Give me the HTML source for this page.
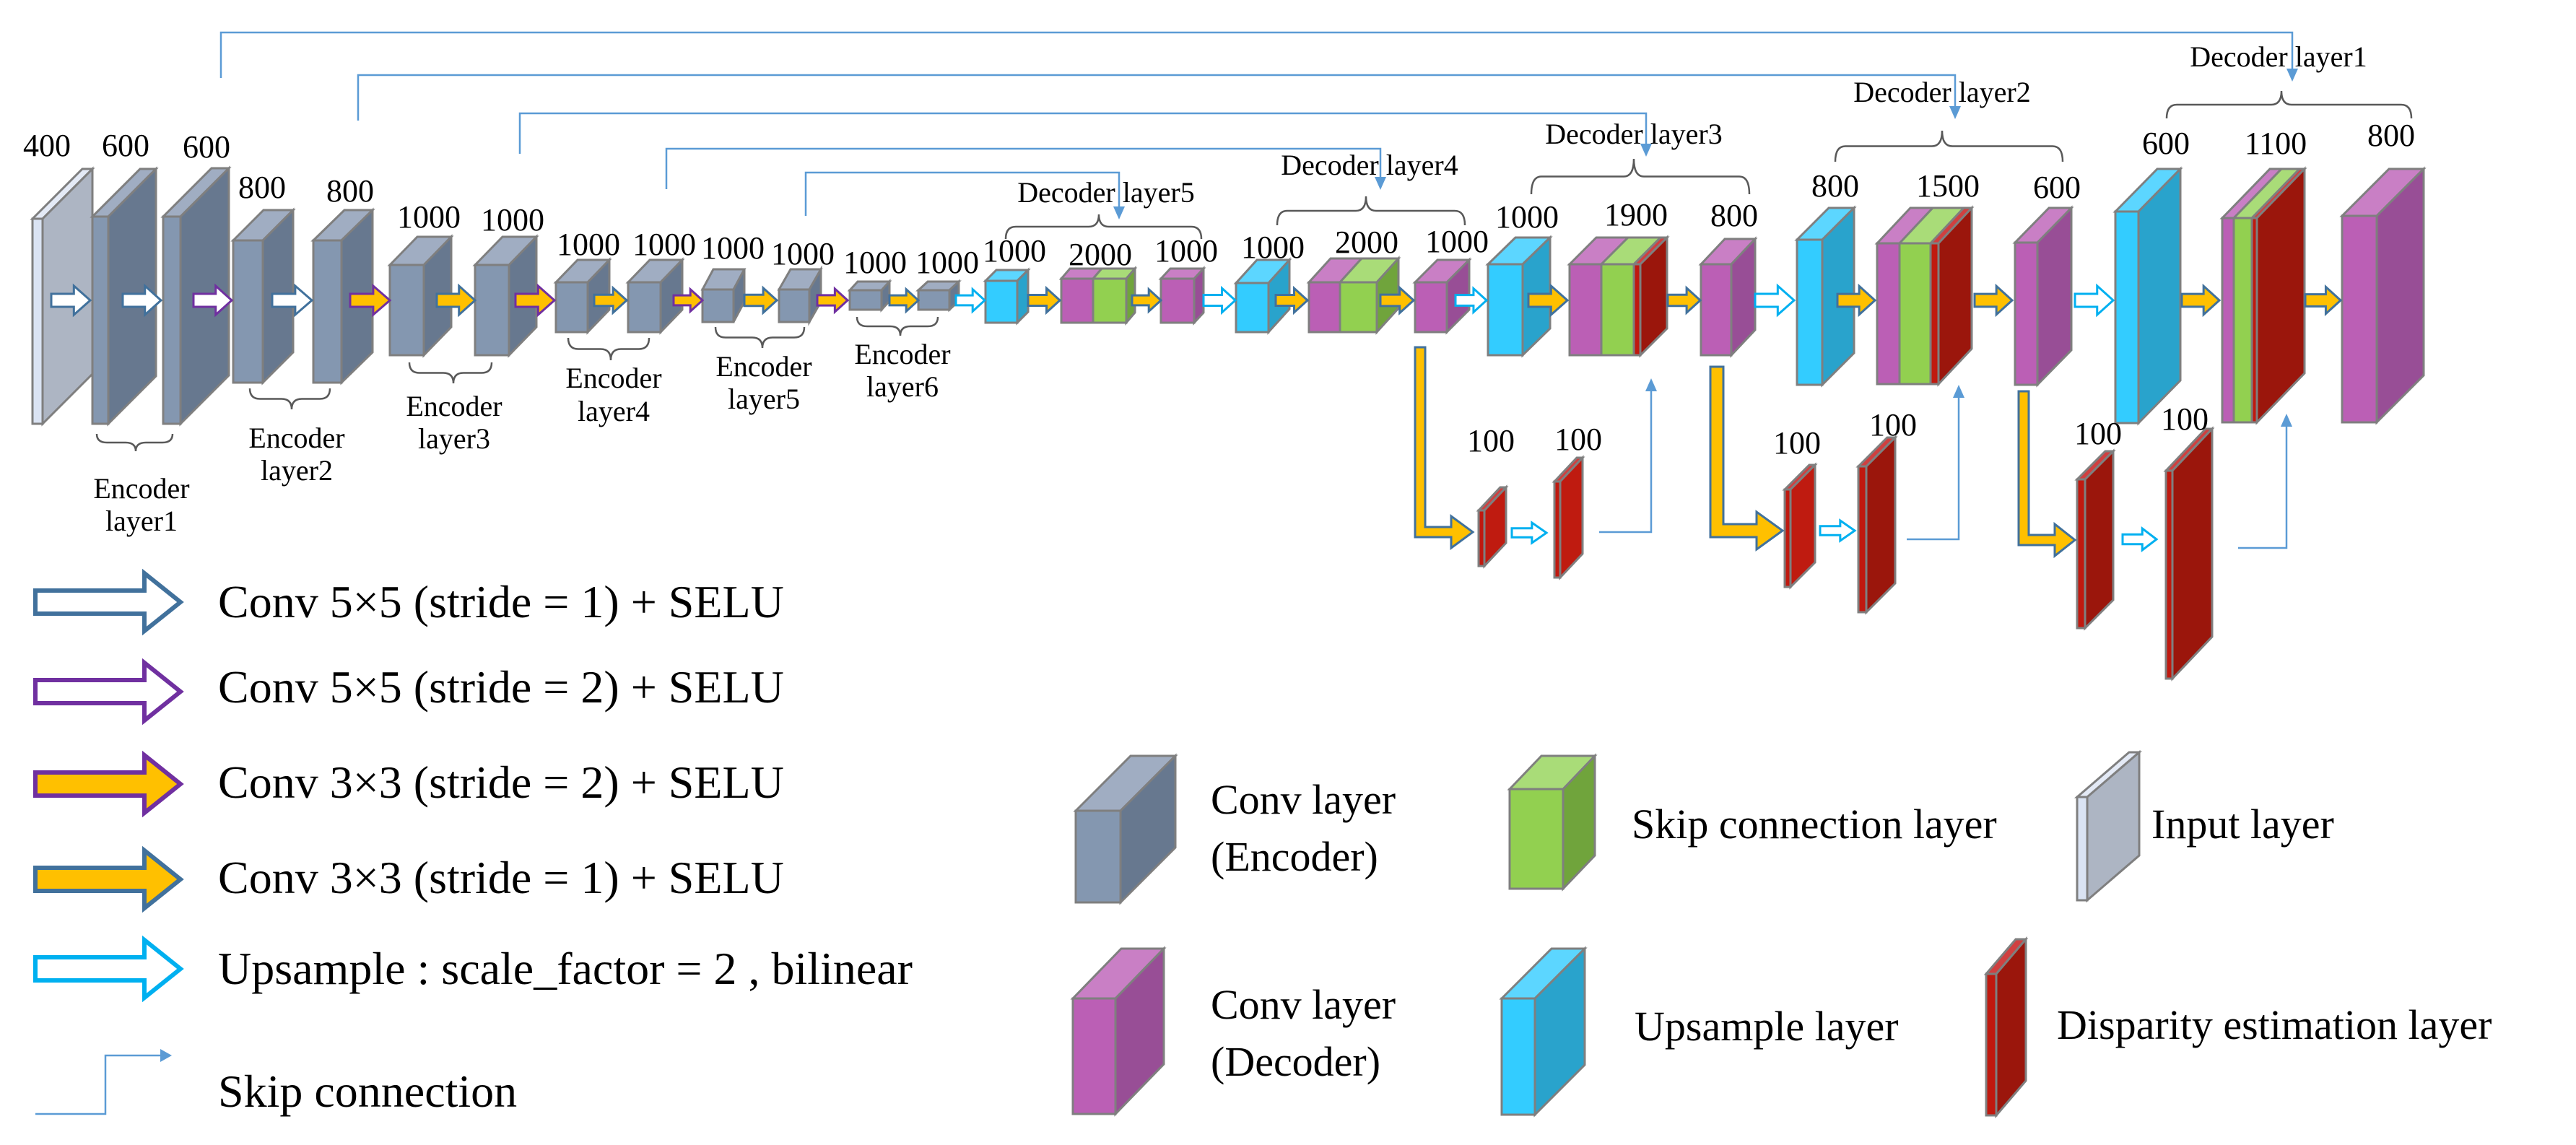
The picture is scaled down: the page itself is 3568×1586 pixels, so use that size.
<!DOCTYPE html>
<html><head><meta charset="utf-8"><style>
html,body{margin:0;padding:0;background:#fff;}
svg{display:block;}
svg text{font-family:"Liberation Serif","Times New Roman",serif !important;fill:#000;}
</style></head><body>
<svg id="s" width="3568" height="1586" viewBox="0 0 3568 1586" xmlns="http://www.w3.org/2000/svg" font-family="Liberation Serif, serif">
<g id="shapes"></g>
<g font-size="44" text-anchor="middle" font-family="Liberation Serif, serif" style="font-family:'Liberation Serif',serif">
<text x="65" y="216">400</text><text x="174" y="216">600</text><text x="286" y="218">600</text>
<text x="363" y="274">800</text><text x="485" y="279">800</text>
<text x="594" y="315">1000</text><text x="710" y="319">1000</text>
<text x="815" y="353">1000</text><text x="920" y="353">1000</text>
<text x="1015" y="358">1000</text><text x="1112" y="366">1000</text>
<text x="1212" y="378">1000</text><text x="1312" y="378">1000</text>
<text x="1405" y="362">1000</text><text x="1524" y="367">2000</text><text x="1643" y="362">1000</text>
<text x="1763" y="357">1000</text><text x="1893" y="350">2000</text><text x="2018" y="349">1000</text>
<text x="2115" y="315">1000</text><text x="2266" y="312">1900</text><text x="2402" y="313">800</text>
<text x="2542" y="272">800</text><text x="2698" y="272">1500</text><text x="2849" y="274">600</text>
<text x="3000" y="213">600</text><text x="3152" y="213">1100</text><text x="3312" y="202">800</text>
<text x="2065" y="625">100</text><text x="2186" y="623">100</text>
<text x="2489" y="628">100</text><text x="2622" y="603">100</text>
<text x="2906" y="615">100</text><text x="3026" y="595">100</text>
</g>
<g font-size="40" text-anchor="middle" font-family="Liberation Serif, serif" style="font-family:'Liberation Serif',serif">
<text x="196" y="690">Encoder</text><text x="196" y="735">layer1</text>
<text x="411" y="620">Encoder</text><text x="411" y="665">layer2</text>
<text x="629" y="576">Encoder</text><text x="629" y="621">layer3</text>
<text x="850" y="537">Encoder</text><text x="850" y="583">layer4</text>
<text x="1058" y="521">Encoder</text><text x="1058" y="566">layer5</text>
<text x="1250" y="504">Encoder</text><text x="1250" y="549">layer6</text>
<text x="1532" y="280">Decoder layer5</text>
<text x="1897" y="242">Decoder layer4</text>
<text x="2263" y="199">Decoder layer3</text>
<text x="2690" y="141">Decoder layer2</text>
<text x="3156" y="92">Decoder layer1</text>
</g>
<g font-size="64" font-family="Liberation Serif, serif" style="font-family:'Liberation Serif',serif">
<text x="302" y="855">Conv 5×5 (stride = 1) + SELU</text>
<text x="302" y="973">Conv 5×5 (stride = 2) + SELU</text>
<text x="302" y="1105">Conv 3×3 (stride = 2) + SELU</text>
<text x="302" y="1237">Conv 3×3 (stride = 1) + SELU</text>
<text x="302" y="1363">Upsample : scale_factor = 2 , bilinear</text>
<text x="302" y="1533">Skip connection</text>
</g>
<g font-size="58" font-family="Liberation Serif, serif" style="font-family:'Liberation Serif',serif">
<text x="1677" y="1127">Conv layer</text><text x="1677" y="1206">(Encoder)</text>
<text x="2260" y="1161">Skip connection layer</text>
<text x="2980" y="1161">Input layer</text>
<text x="1677" y="1411">Conv layer</text><text x="1677" y="1490">(Decoder)</text>
<text x="2264" y="1441">Upsample layer</text>
<text x="2849" y="1439">Disparity estimation layer</text>
</g>
</svg>
<script>
(function(){
var g=document.getElementById('shapes'),NS='http://www.w3.org/2000/svg';
function el(t,a){var e=document.createElementNS(NS,t);for(var k in a)e.setAttribute(k,a[k]);g.appendChild(e);return e;}
function poly(pts,fill,stroke,sw){el('polygon',{points:pts.map(function(p){return p[0]+','+p[1]}).join(' '),fill:fill,stroke:stroke||'#7f7f7f','stroke-width':sw||3,'stroke-linejoin':'miter'});}
var C={e:['#8497b0','#a0adc2','#67788f'],i:['#dae3f3','#e4eaf6','#adb5c3'],p:['#bb5fb5','#c97fc5','#984e96'],g:['#92d050','#a9dc78','#70a43c'],c:['#33ccff','#5cd6ff','#29a3cc'],r:['#c0190f','#d04040','#9b160c'],rb:['#c0190f','#d04040','#bf1b10']};
function box(segs,y,h,dx,dy,sideKey){
  segs.forEach(function(s){var c=C[s[2]];
    poly([[s[0],y],[s[0]+dx,y-dy],[s[1]+dx,y-dy],[s[1],y]],c[1]);});
  var L=segs[segs.length-1],xr=L[1],sc=C[sideKey||L[2]][2];
  poly([[xr,y],[xr+dx,y-dy],[xr+dx,y+h-dy],[xr,y+h]],sc);
  segs.forEach(function(s){var c=C[s[2]];poly([[s[0],y],[s[1],y],[s[1],y+h],[s[0],y+h]],c[0]);});
}
function b1(x0,x1,y,h,dx,dy,k,sk){box([[x0,x1,k]],y,h,dx,dy,sk);}
b1(45,59,303,284,69,69,'i');
b1(128,150,300,287,66,66,'e');
b1(226,250,300,287,67,67,'e');
b1(323,364,333,197,42,42,'e');
b1(434,473,333,197,43,42,'e');
b1(540,587,367,125,38,39,'e');
b1(658,705,367,125,38,39,'e');
b1(770,814,391,69,30,31,'e');
b1(870,915,391,69,30,31,'e');
b1(973,1016,401,45,15,28,'e');
b1(1079,1121,401,45,16,28,'e');
b1(1177,1221,402,27,11,12,'e');
b1(1272,1315,402,27,13,12,'e');
b1(1365,1409,389,58,15,15,'c');
box([[1470,1514,'p'],[1514,1560,'g']],386,61,12,14);
b1(1608,1654,386,61,13,14,'p');
b1(1712,1757,392,68,29,32,'c');
box([[1813,1856,'p'],[1856,1907,'g']],391,69,30,33);
b1(1960,2004,391,69,31,31,'p');
b1(2061,2109,366,126,38,37,'c');
box([[2174,2218,'p'],[2218,2263,'g'],[2263,2272,'r']],366,126,37,37,'r');
b1(2356,2398,366,126,33,35,'p');
b1(2489,2524,332,201,44,44,'c');
box([[2600,2631,'p'],[2631,2674,'g'],[2674,2685,'r']],337,195,46,49,'r');
b1(2791,2822,336,197,47,48,'p');
b1(2930,2962,293,293,58,59,'c');
box([[3078,3094,'p'],[3094,3119,'g'],[3119,3126,'r']],302,283,66,68,'r');
b1(3244,3292,299,286,65,65,'p');
b1(2048,2056,707,77,30,32,'r','rb');
b1(2153,2161,667,133,31,33,'r','rb');
b1(2472,2480,678,135,34,34,'r','rb');
b1(2574,2585,646,202,40,40,'r');
b1(2877,2888,664,206,39,39,'r');
b1(3000,3009,652,288,55,58,'r');
b1(1490,1552,1123,127,76,76,'e');
b1(2091,2165,1093,138,44,46,'g');
b1(2877,2891,1104,143,72,62,'i');
b1(1486,1545,1383,160,67,69,'p');
b1(2080,2126,1383,161,69,69,'c');
b1(2751,2765,1349,196,41,48,'r');
var AS={b:['#fff','#41719c'],p:['#fff','#7030a0'],yp:['#ffc000','#7030a0'],yb:['#ffc000','#41719c'],c:['#fff','#00b0f0']};
function arrow(x1,x2,y,t,H,s,hl,sw){var len=x2-x1;
  H=H||Math.max(14,Math.min(20,len*0.38));s=s||H*0.45;hl=hl||len*0.42;var xh=x2-hl;
  poly([[x1,y-s],[xh,y-s],[xh,y-H],[x2,y],[xh,y+H],[xh,y+s],[x1,y+s]],AS[t][0],AS[t][1],sw||3);}
[[71,125,'b'],[170,223,'b'],[268,321,'p'],[377,432,'b'],[485,540,'yp'],[605,658,'yb'],[714,768,'yp'],[823,868,'yb'],[933,973,'yp'],[1031,1076,'yb'],[1132,1174,'yp'],[1232,1272,'yb'],[1324,1364,'c'],
[1424,1468,'yb'],[1568,1608,'yb'],[1667,1711,'c'],[1767,1811,'yb'],[1912,1958,'yb'],[2016,2059,'c'],[2117,2171,'yb'],[2310,2355,'yb'],[2431,2485,'c'],[2545,2597,'yb'],[2735,2787,'yb'],[2874,2927,'c'],[3022,3074,'yb'],[3193,3242,'yb']].forEach(function(a){arrow(a[0],a[1],416,a[2]);});
arrow(2094,2142,738,'c',14);arrow(2521,2569,735,'c',14);arrow(2940,2987,747,'c',15);
function Larrow(xl,yt,yc,xt,s,H,hl){poly([[xl,yt],[xl+2*s,yt],[xl+2*s,yc-s],[xt-hl,yc-s],[xt-hl,yc-H],[xt,yc],[xt-hl,yc+H],[xt-hl,yc+s],[xl,yc+s]],'#ffc000','#41719c',3);}
Larrow(1960,481,737,2040,7,22,30);
Larrow(2369,508,735,2469,9,26,36);
Larrow(2796,542,748,2874,7,22,28);
[['b',834],['p',958],['yp',1086],['yb',1218],['c',1342]].forEach(function(a){arrow(49,250,a[1],a[0],40,16,50,6);});
var BL='#5b9bd5';
function line(pts){el('polyline',{points:pts.map(function(p){return p.join(',')}).join(' '),fill:'none',stroke:BL,'stroke-width':2.5});}
function tipD(x,y){el('polygon',{points:(x-8)+','+(y-18)+' '+(x+8)+','+(y-18)+' '+x+','+y,fill:BL});}
function tipU(x,y){el('polygon',{points:(x-8)+','+(y+18)+' '+(x+8)+','+(y+18)+' '+x+','+y,fill:BL});}
line([[306,108],[306,45],[3175,45],[3175,96]]);tipD(3175,113);
line([[496,167],[496,104],[2708,104],[2708,148]]);tipD(2708,165);
line([[720,213],[720,157],[2280,157],[2280,200]]);tipD(2280,217);
line([[923,262],[923,206],[1912,206],[1912,246]]);tipD(1912,263);
line([[1116,299],[1116,239],[1550,239],[1550,288]]);tipD(1550,304);
line([[2215,737],[2287,737],[2287,540]]);tipU(2287,524);
line([[2641,747],[2713,747],[2713,549]]);tipU(2713,533);
line([[3100,759],[3167,759],[3167,589]]);tipU(3167,573);
line([[49,1543],[146,1543],[146,1462],[222,1462]]);
el('polygon',{points:'222,1453 222,1471 238,1462',fill:BL});
function brace(x1,x2,tip,ye,yt){var ym=ye+(yt-ye)*0.5,r=14;
  var d='M'+x1+','+ye+' Q'+x1+','+ym+' '+(x1+r)+','+ym+' L'+(tip-r)+','+ym+' Q'+tip+','+ym+' '+tip+','+yt+' Q'+tip+','+ym+' '+(tip+r)+','+ym+' L'+(x2-r)+','+ym+' Q'+x2+','+ym+' '+x2+','+ye;
  el('path',{d:d,fill:'none',stroke:'#595959','stroke-width':2.5});}
brace(134,239,188,601,625);brace(346,457,404,538,567);brace(567,681,628,502,531);
brace(787,899,846,468,499);brace(991,1114,1056,453,482);brace(1187,1299,1247,439,465);
brace(1393,1664,1522,331,297);brace(1769,2029,1892,312,272);brace(2121,2423,2263,269,220);
brace(2542,2857,2690,224,181);brace(3001,3340,3160,164,126);
})();
</script>
</body></html>
